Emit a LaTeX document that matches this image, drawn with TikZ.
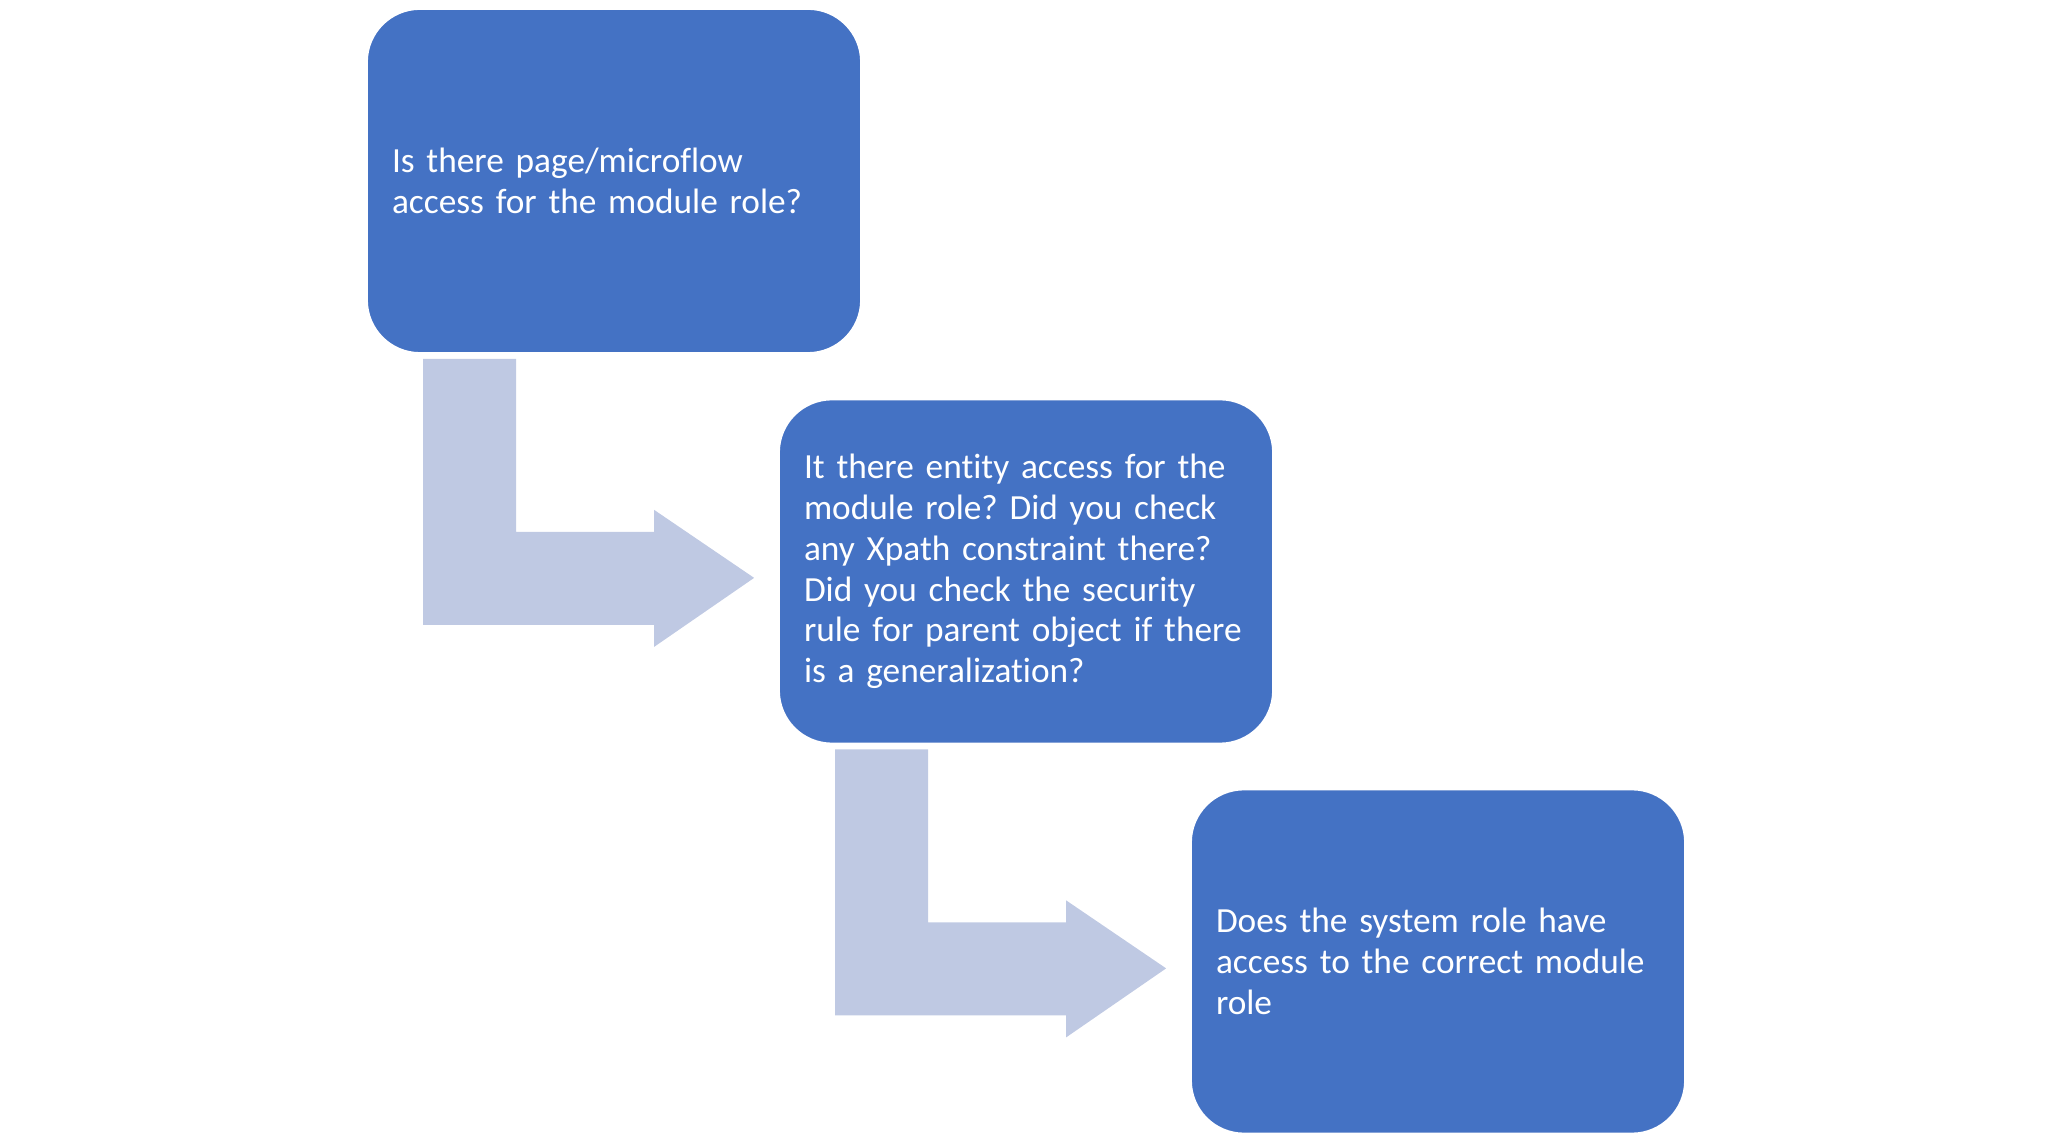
\documentclass[tikz,border=0pt]{standalone}
\usepackage{fontspec}
\setmainfont{Carlito}[Ligatures=NoCommon]
\usepackage{tikz}
\usetikzlibrary{calc}

\definecolor{boxblue}{HTML}{4472C4}
\definecolor{arrowblue}{HTML}{BFC9E3}

\tikzset{
  qbox/.style={draw=white,line width=0.5pt,fill=boxblue,rounded corners=0.53cm,
    minimum width=4.94cm,minimum height=3.44cm,inner sep=0.25cm,
    text width=4.44cm,align=left,text=white,
    font=\fontsize{10.05}{11.6}\selectfont\frenchspacing},
  bentarrow/.style={fill=arrowblue}
}

\begin{document}
\begin{tikzpicture}
  \useasboundingbox (0,0) rectangle (20.5,11.43);
  \node[qbox] (box1) at (6.14,9.62)
    {Is there page/microflow\\access for the module role?};
  \node[qbox] (box2) at (10.26,5.715)
    {It there entity access for the\\module role? Did you check\\any Xpath constraint there?\\Did you check the security\\rule for parent object if there\\is a generalization?};
  \node[qbox] (box3) at (14.38,1.815)
    {Does the system role have\\access to the correct module\\role};
  % bent arrows under each box
  \foreach \a in {box1,box2}{
    \fill[bentarrow] ($(\a.south west)+(0.57,-0.05)$) -- ++(0.93,0) -- ++(0,-1.73)
      -- ++(1.38,0) -- ++(0,0.22) -- ++(1.0,-0.68) -- ++(-1.0,-0.69)
      -- ++(0,0.22) -- ++(-2.31,0) -- cycle;
  }
\end{tikzpicture}
\end{document}
